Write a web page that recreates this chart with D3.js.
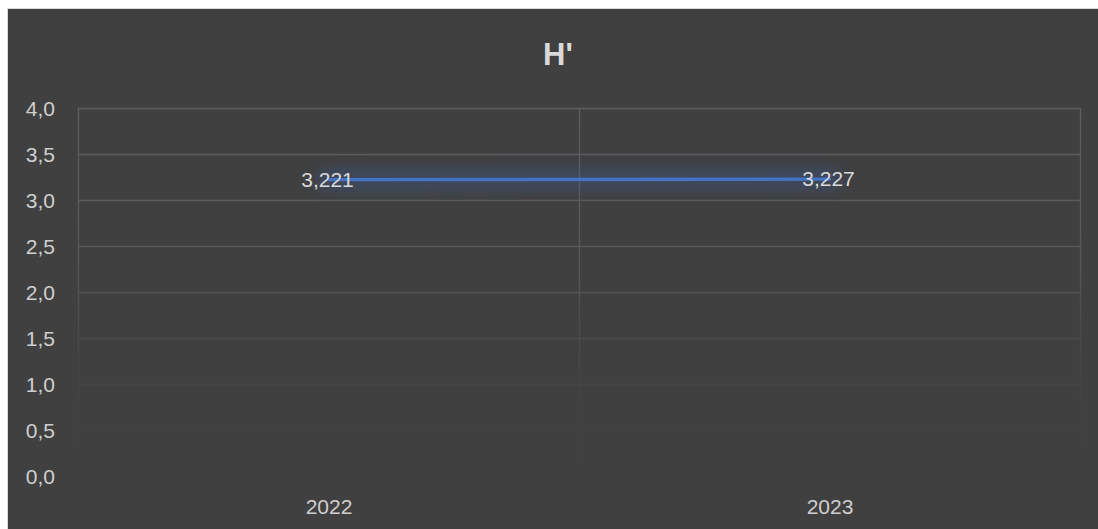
<!DOCTYPE html>
<html>
<head>
<meta charset="utf-8">
<script src="https://cdn.jsdelivr.net/npm/d3@7"></script>
<style>
  body { margin: 0; background: #ffffff; }
  svg { display: block; font-family: "Liberation Sans", Arial, sans-serif; }
  .tickText { fill: #cfcfcf; font-size: 21px; }
  .dataLabel { fill: #d9d9d9; font-size: 21px; }
</style>
</head>
<body>
<svg id="lineViz" width="1098" height="529"></svg>
<script>
const chartTitle = "H'";
const years = ["2022", "2023"];
const hValues = [3.221, 3.227];
const yTicks = [0, 0.5, 1, 1.5, 2, 2.5, 3, 3.5, 4];

const width = 1098;
const height = 529;
const plotLeft = 78;
const plotRight = 1080;
const plotTop = 108;
const plotBottom = 476;

const fmt = (v, digits) => v.toFixed(digits).replace(".", ",");

let svg = d3.select("#lineViz");

// chart background with thin light edge
svg
  .append("rect")
  .attr("x", 7.5)
  .attr("y", 8.5)
  .attr("width", width)
  .attr("height", height)
  .attr("fill", "#404040")
  .attr("stroke", "#d9d9d9")
  .attr("stroke-width", 1);

let defs = svg.append("defs");

// grid fades out toward the bottom
let gridFade = defs
  .append("linearGradient")
  .attr("id", "gridFade")
  .attr("gradientUnits", "userSpaceOnUse")
  .attr("x1", 0)
  .attr("y1", plotTop)
  .attr("x2", 0)
  .attr("y2", plotBottom - 8);
gridFade.append("stop").attr("offset", 0).attr("stop-color", "#5e5e5e").attr("stop-opacity", 1);
gridFade.append("stop").attr("offset", 0.45).attr("stop-color", "#5a5a5a").attr("stop-opacity", 0.9);
gridFade.append("stop").attr("offset", 1).attr("stop-color", "#404040").attr("stop-opacity", 0);

// line is almost flat, so the filter box has to be in user space
let glow = defs
  .append("filter")
  .attr("id", "glow")
  .attr("filterUnits", "userSpaceOnUse")
  .attr("x", 0)
  .attr("y", 0)
  .attr("width", width)
  .attr("height", height);
glow.append("feGaussianBlur").attr("stdDeviation", 6);

const x = d3.scalePoint().domain(years).range([plotLeft, plotRight]).padding(0.5);
const y = d3.scaleLinear().domain([0, 4]).range([plotBottom, plotTop]);

let grid = svg.append("g");

grid
  .selectAll("line.hGrid")
  .data(yTicks)
  .join("line")
  .attr("class", "hGrid")
  .attr("x1", plotLeft)
  .attr("x2", plotRight)
  .attr("y1", (d) => Math.round(y(d)) + 0.5)
  .attr("y2", (d) => Math.round(y(d)) + 0.5)
  .attr("stroke", "url(#gridFade)")
  .attr("stroke-width", 1.3);

// category separators: left edge, between years, right edge
const bandEdges = [plotLeft, (x(years[0]) + x(years[1])) / 2, plotRight];
grid
  .selectAll("line.vGrid")
  .data(bandEdges)
  .join("line")
  .attr("class", "vGrid")
  .attr("x1", (d) => Math.round(d) + 0.5)
  .attr("x2", (d) => Math.round(d) + 0.5)
  .attr("y1", plotTop)
  .attr("y2", plotBottom)
  .attr("stroke", "url(#gridFade)")
  .attr("stroke-width", 1.3);

// y axis
let yAxis = svg
  .append("g")
  .attr("transform", "translate(" + (plotLeft - 23) + ",0)")
  .call(d3.axisLeft(y).tickValues(yTicks).tickSize(0).tickFormat((d) => fmt(d, 1)));
yAxis.select(".domain").remove();
yAxis.selectAll("text").attr("class", "tickText").attr("x", 0).attr("dy", "0.35em");

// x axis
let xAxis = svg
  .append("g")
  .attr("transform", "translate(0," + (plotBottom + 31) + ")")
  .call(d3.axisBottom(x).tickSize(0));
xAxis.select(".domain").remove();
xAxis.selectAll("text").attr("class", "tickText").attr("y", 0).attr("dy", "0.35em");

const points = years.map((yr, i) => ({ year: yr, value: hValues[i] }));
const line = d3
  .line()
  .x((d) => x(d.year))
  .y((d) => y(d.value));

// soft glow under the series
svg
  .append("path")
  .datum(points)
  .attr("d", line)
  .attr("fill", "none")
  .attr("stroke", "#35589a")
  .attr("stroke-opacity", 0.3)
  .attr("stroke-width", 26)
  .attr("stroke-linecap", "round")
  .attr("filter", "url(#glow)");

svg
  .append("path")
  .datum(points)
  .attr("d", line)
  .attr("fill", "none")
  .attr("stroke", "#4472c4")
  .attr("stroke-width", 3.4)
  .attr("stroke-linecap", "round");

svg
  .selectAll("text.dataLabel")
  .data(points)
  .join("text")
  .attr("class", "dataLabel")
  .attr("x", (d) => x(d.year) - 1)
  .attr("y", (d) => y(d.value))
  .attr("dy", "0.35em")
  .attr("text-anchor", "middle")
  .text((d) => fmt(d.value, 3));

svg
  .append("text")
  .text(chartTitle)
  .attr("x", 558)
  .attr("y", 65)
  .attr("text-anchor", "middle")
  .attr("fill", "#d9d9d9")
  .attr("font-size", "31px")
  .attr("font-weight", "bold");
</script>
</body>
</html>
